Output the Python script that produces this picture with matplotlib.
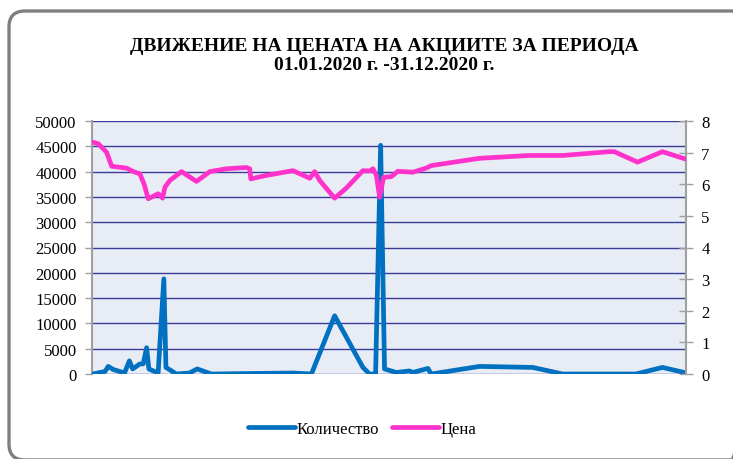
import matplotlib
matplotlib.use("Agg")
import matplotlib.pyplot as plt
from matplotlib.patches import FancyBboxPatch
from matplotlib.lines import Line2D

# Quantity (Количество) — day of year and value
qty_days = [0.5, 8, 10, 13, 20, 23, 25, 29.5, 31.5, 33.6, 35, 40.7, 44.2, 45.5, 52, 60, 64.7,
            73.5, 123.5, 135, 149.3, 166.7, 170.8, 174.5, 177.6, 180, 187.2, 195.4, 197.4,
            206.7, 208.7, 238.4, 271.2, 289.6, 334.7, 351, 364.4]
qty_vals = [0, 500, 1500, 900, 200, 2600, 1000, 2000, 2000, 5200, 1000, 200, 18800, 1300, 0, 200, 1000,
            0, 200, 0, 11500, 1300, 0, 0, 45200, 1000, 300, 600, 300,
            1100, 0, 1500, 1300, 0, 0, 1300, 300]

# Price (Цена)
price_days = [0.5, 3.9, 9, 12.1, 21.3, 25.4, 29.5, 32, 34.6, 40.7, 43.4, 44.9, 47.9, 55.1, 64.3,
              72.5, 82.8, 95, 97.1, 97.7, 107.3, 123.7, 134, 137, 140.1, 149.3, 156.5, 166.7,
              170.8, 172.9, 175, 177, 179.4, 184.2, 188.2, 197.4, 205.6, 208.7, 238.4, 269.1,
              289.6, 318.3, 321.4, 335.7, 351, 365]
price_vals = [7.33, 7.28, 7.01, 6.57, 6.51, 6.40, 6.33, 6.01, 5.54, 5.70, 5.56, 5.91, 6.12, 6.40, 6.09,
              6.40, 6.49, 6.53, 6.49, 6.17, 6.28, 6.43, 6.19, 6.40, 6.12, 5.56, 5.88, 6.43,
              6.42, 6.49, 6.28, 5.59, 6.22, 6.24, 6.41, 6.38, 6.51, 6.59, 6.82, 6.91,
              6.91, 7.03, 7.03, 6.70, 7.03, 6.80]

left_ticks = list(range(0, 50001, 5000))
right_ticks = list(range(0, 9))

title = "ДВИЖЕНИЕ НА ЦЕНАТА НА АКЦИИТЕ ЗА ПЕРИОДА\n01.01.2020 г. -31.12.2020 г."

plt.rcParams['font.family'] = ['Liberation Serif', 'DejaVu Serif']

W, H = 733, 460
fig = plt.figure(figsize=(W / 100, H / 100), dpi=100)
fig.patch.set_facecolor('white')

# background axes in pixel units for the rounded border
bg = fig.add_axes([0, 0, 1, 1], zorder=-5)
bg.set_xlim(0, W)
bg.set_ylim(H, 0)
bg.axis('off')
border = FancyBboxPatch((9, 12), 738, 449,
                        boxstyle="round,pad=0,rounding_size=16",
                        facecolor='none', edgecolor='#7f7f7f', linewidth=2.4, clip_on=False)
bg.add_patch(border)

ax = fig.add_axes([92/W, 1 - 375/H, (686 - 92)/W, (375 - 122)/H])
ax.set_facecolor('#E8ECF4')
ax.set_xlim(0, 365.5)
ax.set_ylim(0, 50000)
ax.set_yticks(left_ticks)
ax.set_yticklabels([str(t) for t in left_ticks], fontsize=12)
ax.set_xticks([])
for t in left_ticks:
    ax.axhline(t, color='#3B3B9A', linewidth=1.0, zorder=1)
for s in ['top', 'bottom', 'right']:
    ax.spines[s].set_visible(False)
ax.spines['left'].set_color('#A0A0A0')
ax.spines['left'].set_linewidth(1.5)
ax.tick_params(axis='y', direction='out', length=5, color='#A0A0A0', width=1, pad=6)

ax.plot(qty_days, qty_vals, color='#0070C0', linewidth=3.4, solid_joinstyle='round',
        solid_capstyle='round', zorder=3)

ax2 = ax.twinx()
ax2.set_ylim(0, 8)
ax2.set_yticks(right_ticks)
ax2.set_yticklabels([str(t) for t in right_ticks], fontsize=12)
for s in ['top', 'bottom', 'left']:
    ax2.spines[s].set_visible(False)
ax2.spines['right'].set_color('#A0A0A0')
ax2.spines['right'].set_linewidth(1.5)
ax2.tick_params(axis='y', direction='inout', length=10, color='#A0A0A0', width=1, pad=6)
ax2.plot(price_days, price_vals, color='#FF33CC', linewidth=3.4, solid_joinstyle='round',
         solid_capstyle='round', zorder=3)

fig.text(384/W, 1 - 56/H, title, ha='center', va='center', fontsize=14,
         fontweight='bold', linespacing=1.15)

handles = [Line2D([0], [0], color='#0070C0', linewidth=3.4, solid_capstyle='round'),
           Line2D([0], [0], color='#FF33CC', linewidth=3.4, solid_capstyle='round')]
fig.legend(handles, ['Количество', 'Цена'], loc='center', bbox_to_anchor=(362/W, 1 - 430/H),
           ncol=2, frameon=False, fontsize=12, handlelength=2.8, handletextpad=0.1,
           columnspacing=0.8)

fig.savefig('out.png', dpi=100)
